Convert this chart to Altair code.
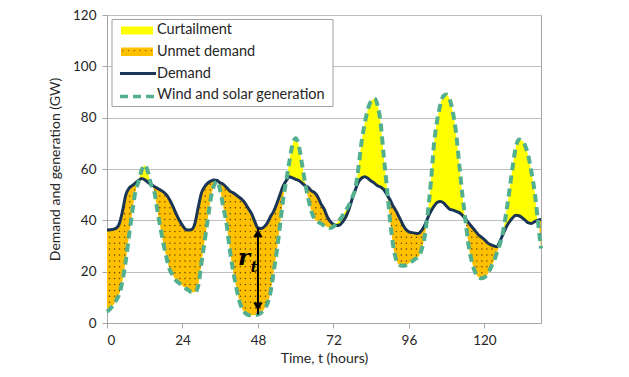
import altair as alt
import numpy as np
import pandas as pd

# ---- data ----
hours = list(range(0, 139))
demand = [
    36.2, 36.3, 36.5, 37.0, 39.0, 44.0, 50.0, 52.5, 53.5, 54.5,
    55.5, 56.3, 55.8, 54.8, 54.0, 53.2, 52.5, 51.8, 51.0, 49.8,
    47.8, 45.3, 42.5, 40.0, 38.0, 36.5, 36.2, 36.5, 39.0, 45.0,
    50.5, 53.0, 54.5, 55.3, 55.7, 55.5, 54.6, 54.0, 52.8, 51.5,
    50.8, 50.0, 49.0, 48.0, 46.5, 44.5, 42.5, 39.5, 37.0, 36.8,
    37.5, 39.0, 41.5, 43.5, 46.5, 50.0, 53.3, 55.5, 57.0, 56.5,
    56.0, 55.5, 54.5, 53.5, 52.8, 51.5, 50.8, 49.2, 46.5, 44.5,
    41.5, 39.5, 38.5, 38.0, 38.2, 39.5, 41.5, 44.5, 48.5, 52.0,
    55.0, 56.5, 57.0, 56.3, 55.3, 54.5, 53.5, 53.0, 52.0, 50.0,
    48.0, 45.5, 43.5, 41.0, 38.5, 36.5, 35.5, 35.2, 35.0, 34.9,
    36.0, 38.0, 41.0, 43.5, 45.5, 47.0, 47.3, 46.8, 45.5, 44.3,
    44.0, 43.5, 43.0, 42.0, 40.5, 39.0, 37.5, 36.0, 34.5, 33.5,
    32.5, 31.2, 30.5, 30.0, 29.7, 32.0, 34.8, 37.5, 39.5, 41.0,
    42.0, 41.8, 41.0, 40.0, 39.0, 38.8, 39.5, 40.0, 40.5,
]
generation = [
    4.4, 5.5, 7.0, 9.0, 11.6, 17.0, 24.5, 34.0, 43.0, 51.0,
    55.0, 59.5, 61.5, 59.0, 54.0, 51.5, 44.0, 37.0, 30.5, 25.0,
    20.6, 18.5, 16.5, 15.5, 14.5, 13.5, 12.7, 12.0, 12.0, 14.5,
    23.0, 31.5, 40.0, 48.5, 53.5, 55.3, 51.5, 45.0, 38.8, 29.0,
    21.0, 14.5, 9.0, 5.5, 3.8, 3.1, 3.0, 3.1, 3.3, 4.0,
    5.5, 7.5, 12.0, 20.0, 28.0, 38.0, 48.0, 55.5, 63.0, 69.5,
    72.0, 69.0, 62.0, 54.5, 48.5, 43.5, 40.5, 39.5, 38.8, 38.0,
    37.5, 37.0, 37.5, 39.0, 40.2, 42.0, 44.0, 46.0, 49.0, 52.5,
    61.0, 71.0, 78.0, 83.5, 86.5, 87.5, 85.0, 78.0, 65.0, 53.0,
    40.0, 30.0, 24.5, 22.6, 22.3, 22.5, 23.3, 24.0, 25.0, 25.8,
    28.5, 33.5, 43.0, 55.0, 70.0, 79.0, 85.0, 88.5, 89.0, 87.0,
    82.0, 74.0, 62.0, 50.0, 40.0, 30.0, 24.0, 20.0, 18.0, 17.4,
    17.8, 19.0, 21.5, 24.0, 27.5, 31.0, 36.0, 43.5, 52.0, 61.0,
    68.5, 71.5, 71.0, 69.0, 65.0, 58.5, 51.0, 40.0, 29.0,
]
x_ticks = [0, 24, 48, 72, 96, 120]
y_ticks = [0, 20, 40, 60, 80, 100, 120]
legend_labels = ["Curtailment", "Unmet demand", "Demand", "Wind and solar generation"]
arrow_hour = 48

# ---- styles ----
YELLOW = "#FFFF00"
ORANGE = "#FFC000"
NAVY = "#1B3556"
GREEN = "#52B08E"
GRID = "#BFBFBF"
AXIS = "#A6A6A6"
TXT = "#262626"
FONT = "Lato"

df = pd.DataFrame({"t": hours, "demand": demand, "gen": generation})
df["upper_c"] = np.maximum(df["gen"], df["demand"])
df["lower_u"] = np.minimum(df["gen"], df["demand"])

xscale = alt.Scale(domain=[0, 138], nice=False, zero=False)
yscale = alt.Scale(domain=[0, 120], nice=False)

xenc = alt.X("t:Q", scale=xscale, axis=alt.Axis(
    values=x_ticks, title="Time, t (hours)", grid=False, tickSize=5,
    labelPadding=5, titlePadding=5))
yaxis = alt.Axis(values=y_ticks, title="Demand and generation (GW)", grid=True,
                 tickSize=5, labelPadding=6, titlePadding=10)

base = alt.Chart(df)

curtail = base.mark_area(color=YELLOW, interpolate="monotone").encode(
    x=xenc, y=alt.Y("demand:Q", scale=yscale, axis=yaxis), y2="upper_c:Q")
unmet = base.mark_area(color=ORANGE, interpolate="monotone").encode(
    x="t:Q", y="lower_u:Q", y2="demand:Q")

# dotted texture inside the unmet-demand region
dot_t = np.arange(0.8, 138, 1.6)
dot_v = np.arange(1.2, 120, 2.3)
dots = []
for tt in dot_t:
    g = np.interp(tt, hours, generation)
    d = np.interp(tt, hours, demand)
    for vv in dot_v:
        if g + 1.0 < vv < d - 1.0:
            dots.append({"t": float(tt), "v": float(vv)})
dots_layer = alt.Chart(pd.DataFrame(dots)).mark_circle(
    size=2.2, color="#3a2a00", opacity=0.85).encode(x="t:Q", y="v:Q")

demand_line = base.mark_line(color=NAVY, strokeWidth=3, interpolate="monotone").encode(
    x="t:Q", y="demand:Q")
gen_line = base.mark_line(color=GREEN, strokeWidth=4, strokeDash=[8, 5],
                          interpolate="monotone").encode(x="t:Q", y="gen:Q")

# r_t arrow annotation
arr = df[df["t"] == arrow_hour]
arrow_rule = alt.Chart(arr).mark_rule(color="black", strokeWidth=2).encode(
    x="t:Q", y="demand:Q", y2="gen:Q")
head_top = alt.Chart(arr).mark_point(shape="triangle-up", filled=True, color="black",
                                     size=90, opacity=1, yOffset=5).encode(x="t:Q", y="demand:Q")
head_bot = alt.Chart(arr).mark_point(shape="triangle-down", filled=True, color="black",
                                     size=90, opacity=1, yOffset=-8).encode(x="t:Q", y="gen:Q")
arr_mid = arr.assign(mid=(arr["demand"] + arr["gen"]) / 2)
r_text = alt.Chart(arr_mid).mark_text(text="r", font="DejaVu Serif", fontStyle="italic",
                                      fontWeight="bold", fontSize=23, color="black",
                                      dx=-14, dy=-13).encode(x="t:Q", y="mid:Q")
t_text = alt.Chart(arr_mid).mark_text(text="t", font="DejaVu Serif", fontStyle="italic",
                                      fontWeight="bold", fontSize=15, color="black",
                                      dx=-4, dy=-4).encode(x="t:Q", y="mid:Q")

# manual legend (pixel positions inside the plot area)
leg = pd.DataFrame({"label": legend_labels, "i": range(4)})
leg["py"] = 15 + leg["i"] * 21.8
leg_box = alt.Chart(pd.DataFrame([{"a": 0}])).mark_rect(
    fill="white", stroke="#A0A0A0", strokeWidth=1).encode(
    x=alt.value(5), x2=alt.value(226), y=alt.value(4.5), y2=alt.value(91.5))
leg_text = alt.Chart(leg).mark_text(align="left", baseline="middle", font=FONT,
                                    fontSize=14.5, color=TXT).encode(
    x=alt.value(50), y=alt.Y("py:Q", scale=None), text="label:N")
leg_yellow = alt.Chart(leg[leg.i == 0]).mark_rect(color=YELLOW).encode(
    x=alt.value(14), x2=alt.value(46), y=alt.value(11.5), y2=alt.value(19.5))
leg_orange = alt.Chart(leg[leg.i == 1]).mark_rect(color=ORANGE).encode(
    x=alt.value(14), x2=alt.value(46), y=alt.value(32.5), y2=alt.value(41))
leg_dots = alt.Chart(leg[leg.i == 1]).mark_text(text="· · · · · ·", font="DejaVu Sans",
                                                fontSize=9, color="#5a4000",
                                                baseline="middle").encode(
    x=alt.value(30), y=alt.value(36))
leg_demand = alt.Chart(leg[leg.i == 2]).mark_rule(color=NAVY, strokeWidth=3).encode(
    x=alt.value(13), x2=alt.value(49), y=alt.value(58.5))
leg_gen = alt.Chart(leg[leg.i == 3]).mark_rule(color=GREEN, strokeWidth=3.5,
                                               strokeDash=[8, 5]).encode(
    x=alt.value(13), x2=alt.value(49), y=alt.value(81.5))

chart = alt.layer(
    curtail, unmet, dots_layer, demand_line, gen_line,
    arrow_rule, head_top, head_bot, r_text, t_text,
    leg_box, leg_yellow, leg_orange, leg_dots, leg_demand, leg_gen, leg_text,
).properties(
    width=434, height=308,
    autosize=alt.AutoSizeParams(type="none"),
    padding={"left": 99, "top": 7, "right": 80, "bottom": 46},
).configure_view(stroke=AXIS, strokeWidth=1).configure_axis(
    labelFont=FONT, titleFont=FONT, labelFontSize=13.5, titleFontSize=14,
    labelColor=TXT, titleColor=TXT, titleFontWeight="normal",
    domainColor=AXIS, tickColor=AXIS, gridColor=GRID, gridWidth=1,
)

chart.save("out.html", embed_options={"renderer": "svg", "actions": False})
